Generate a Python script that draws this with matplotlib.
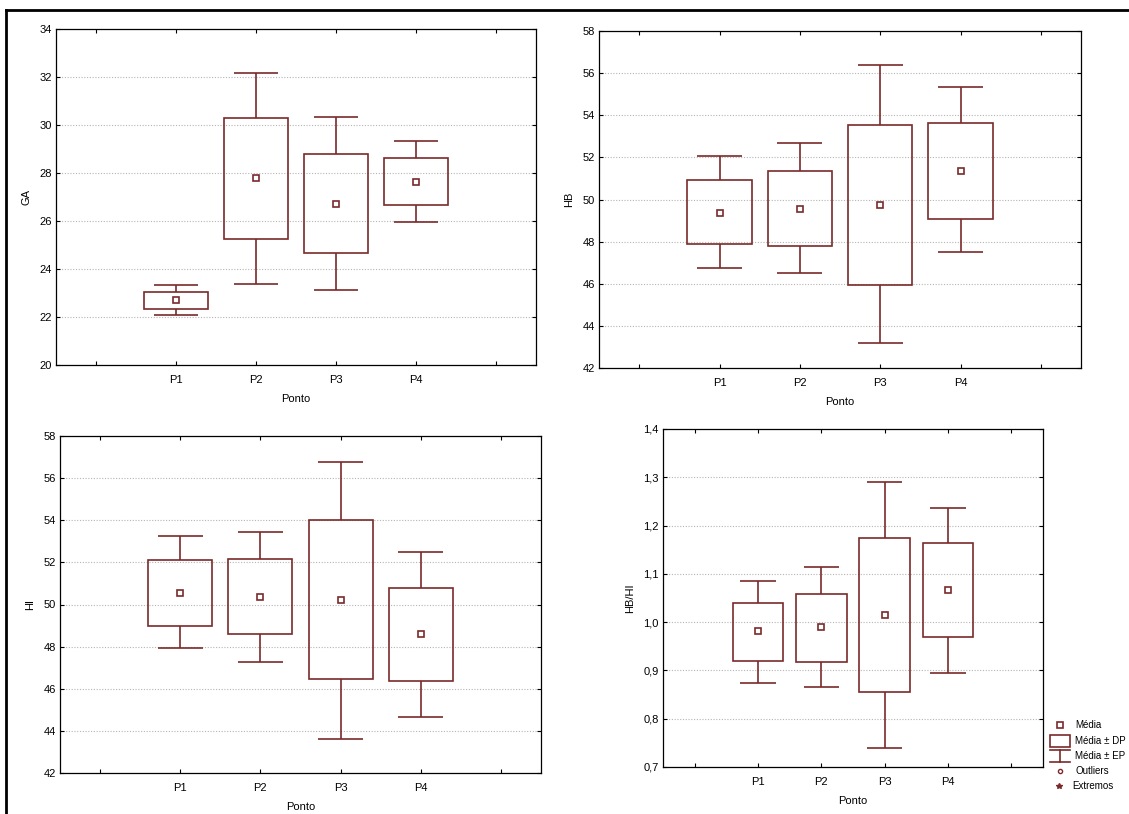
import matplotlib
matplotlib.use("Agg")
import matplotlib.pyplot as plt
from matplotlib.lines import Line2D
from matplotlib.patches import Rectangle
from matplotlib.ticker import FuncFormatter

categories = ["P1", "P2", "P3", "P4"]

# GA
ga_mean = [22.71, 27.78, 26.72, 27.63]
ga_box_lo = [22.32, 25.24, 24.67, 26.67]
ga_box_hi = [23.04, 30.31, 28.81, 28.61]
ga_wh_lo = [22.08, 23.38, 23.14, 25.96]
ga_wh_hi = [23.33, 32.18, 30.35, 29.35]

# HB
hb_mean = [49.37, 49.57, 49.73, 51.36]
hb_box_lo = [47.88, 47.81, 45.96, 49.08]
hb_box_hi = [50.92, 51.36, 53.53, 53.63]
hb_wh_lo = [46.75, 46.51, 43.20, 47.50]
hb_wh_hi = [52.08, 52.66, 56.38, 55.34]

# HI
hi_mean = [50.54, 50.36, 50.21, 48.61]
hi_box_lo = [49.00, 48.62, 46.46, 46.35]
hi_box_hi = [52.09, 52.17, 54.02, 50.79]
hi_wh_lo = [47.93, 47.28, 43.63, 44.67]
hi_wh_hi = [53.24, 53.46, 56.77, 52.48]

# HB/HI
r_mean = [0.981, 0.989, 1.014, 1.067]
r_box_lo = [0.919, 0.917, 0.855, 0.969]
r_box_hi = [1.040, 1.059, 1.174, 1.164]
r_wh_lo = [0.874, 0.865, 0.739, 0.895]
r_wh_hi = [1.085, 1.114, 1.290, 1.237]

W, H = 1129, 814
fig = plt.figure(figsize=(W / 100, H / 100), dpi=100)
plt.rcParams['font.family'] = ['Liberation Sans', 'DejaVu Sans']
C = '#7a2a2a'
FS = 8


def rect(l, t, r, b):
    return [l / W, 1 - b / H, (r - l) / W, (b - t) / H]


def panel(box, ylabel, ylim, yticks, mean, blo, bhi, wlo, whi, fmt=None):
    ax = fig.add_axes(rect(*box))
    x = list(range(1, len(categories) + 1))
    ax.set_xlim(-0.5, 5.5)
    ax.set_ylim(*ylim)
    ax.set_xticks([0, 1, 2, 3, 4, 5])
    ax.set_xticklabels([""] + categories + [""], fontsize=FS)
    ax.set_yticks(yticks)
    if fmt:
        ax.yaxis.set_major_formatter(FuncFormatter(fmt))
    ax.tick_params(axis='y', labelsize=FS, length=3, width=0.8, pad=3,
                   direction='in', right=True)
    ax.tick_params(axis='x', labelsize=FS, length=3, width=0.8, pad=7,
                   top=True, direction='in')
    ax.yaxis.grid(True, linestyle=(0, (1, 1.5)), color='#b5b5b5',
                  linewidth=0.8)
    ax.set_axisbelow(True)
    for s in ax.spines.values():
        s.set_linewidth(0.9)
    heights = [h - l for h, l in zip(bhi, blo)]
    ax.bar(x, heights, bottom=blo, width=0.8, fill=False, edgecolor=C,
           linewidth=1.2, zorder=3)
    ax.vlines(x, bhi, whi, color=C, linewidth=1.2, zorder=3)
    ax.vlines(x, wlo, blo, color=C, linewidth=1.2, zorder=3)
    ax.hlines(whi, [v - 0.28 for v in x], [v + 0.28 for v in x], color=C,
              linewidth=1.2, zorder=3)
    ax.hlines(wlo, [v - 0.28 for v in x], [v + 0.28 for v in x], color=C,
              linewidth=1.2, zorder=3)
    ax.plot(x, mean, linestyle='none', marker='s', markersize=4,
            markerfacecolor='white', markeredgecolor=C, markeredgewidth=1.2,
            zorder=4)
    ax.set_xlabel("Ponto", fontsize=FS, labelpad=7)
    ax.set_ylabel(ylabel, fontsize=FS, labelpad=6)
    return ax


comma = lambda v, p: f"{v:.1f}".replace('.', ',')

panel((56, 29, 536, 365), "GA", (20, 34), range(20, 35, 2),
      ga_mean, ga_box_lo, ga_box_hi, ga_wh_lo, ga_wh_hi)
panel((599, 31, 1081, 368), "HB", (42, 58), range(42, 59, 2),
      hb_mean, hb_box_lo, hb_box_hi, hb_wh_lo, hb_wh_hi)
panel((60, 436, 541, 773), "HI", (42, 58), range(42, 59, 2),
      hi_mean, hi_box_lo, hi_box_hi, hi_wh_lo, hi_wh_hi)
panel((663, 429, 1043, 767), "HB/HI", (0.7, 1.4),
      [0.7, 0.8, 0.9, 1.0, 1.1, 1.2, 1.3, 1.4],
      r_mean, r_box_lo, r_box_hi, r_wh_lo, r_wh_hi, fmt=comma)

# outer frame (left and top)
fig.add_artist(Line2D([6 / W, 6 / W], [0, 1 - 10 / H], color='black', lw=2,
                      transform=fig.transFigure))
fig.add_artist(Line2D([6 / W, 1], [1 - 10 / H, 1 - 10 / H], color='black',
                      lw=2, transform=fig.transFigure))

# legend (drawn manually)
def fx(px):
    return px / W


def fy(py):
    return 1 - py / H


lx = 1060
tx = 1075
LFS = 7
fig.add_artist(Line2D([fx(lx)], [fy(725)], marker='s', markersize=4,
                      markerfacecolor='white', markeredgecolor=C,
                      markeredgewidth=1.2, linestyle='none',
                      transform=fig.transFigure))
fig.text(fx(tx), fy(725), "Média", fontsize=LFS, va='center', ha='left')
fig.add_artist(Rectangle((fx(1050), fy(747)), (1070 - 1050) / W, 12 / H,
                         fill=False, edgecolor=C, lw=1.2,
                         transform=fig.transFigure))
fig.text(fx(tx), fy(741), "Média ± DP", fontsize=LFS, va='center', ha='left')
fig.add_artist(Line2D([fx(1050), fx(1070)], [fy(750), fy(750)], color=C, lw=1.2,
                      transform=fig.transFigure))
fig.add_artist(Line2D([fx(1060), fx(1060)], [fy(750), fy(762)], color=C, lw=1.2,
                      transform=fig.transFigure))
fig.add_artist(Line2D([fx(1050), fx(1070)], [fy(762), fy(762)], color=C, lw=1.2,
                      transform=fig.transFigure))
fig.text(fx(tx), fy(756), "Média ± EP", fontsize=LFS, va='center', ha='left')
fig.add_artist(Line2D([fx(lx)], [fy(771)], marker='o', markersize=3,
                      markerfacecolor='white', markeredgecolor=C,
                      markeredgewidth=1.0, linestyle='none',
                      transform=fig.transFigure))
fig.text(fx(tx), fy(771), "Outliers", fontsize=LFS, va='center', ha='left')
fig.add_artist(Line2D([fx(lx - 1)], [fy(786)], marker='*', markersize=4,
                      markerfacecolor=C, markeredgecolor=C,
                      linestyle='none', transform=fig.transFigure))
fig.text(fx(tx - 3), fy(786), "Extremos", fontsize=LFS, va='center', ha='left')

fig.savefig("out.png", dpi=100)
